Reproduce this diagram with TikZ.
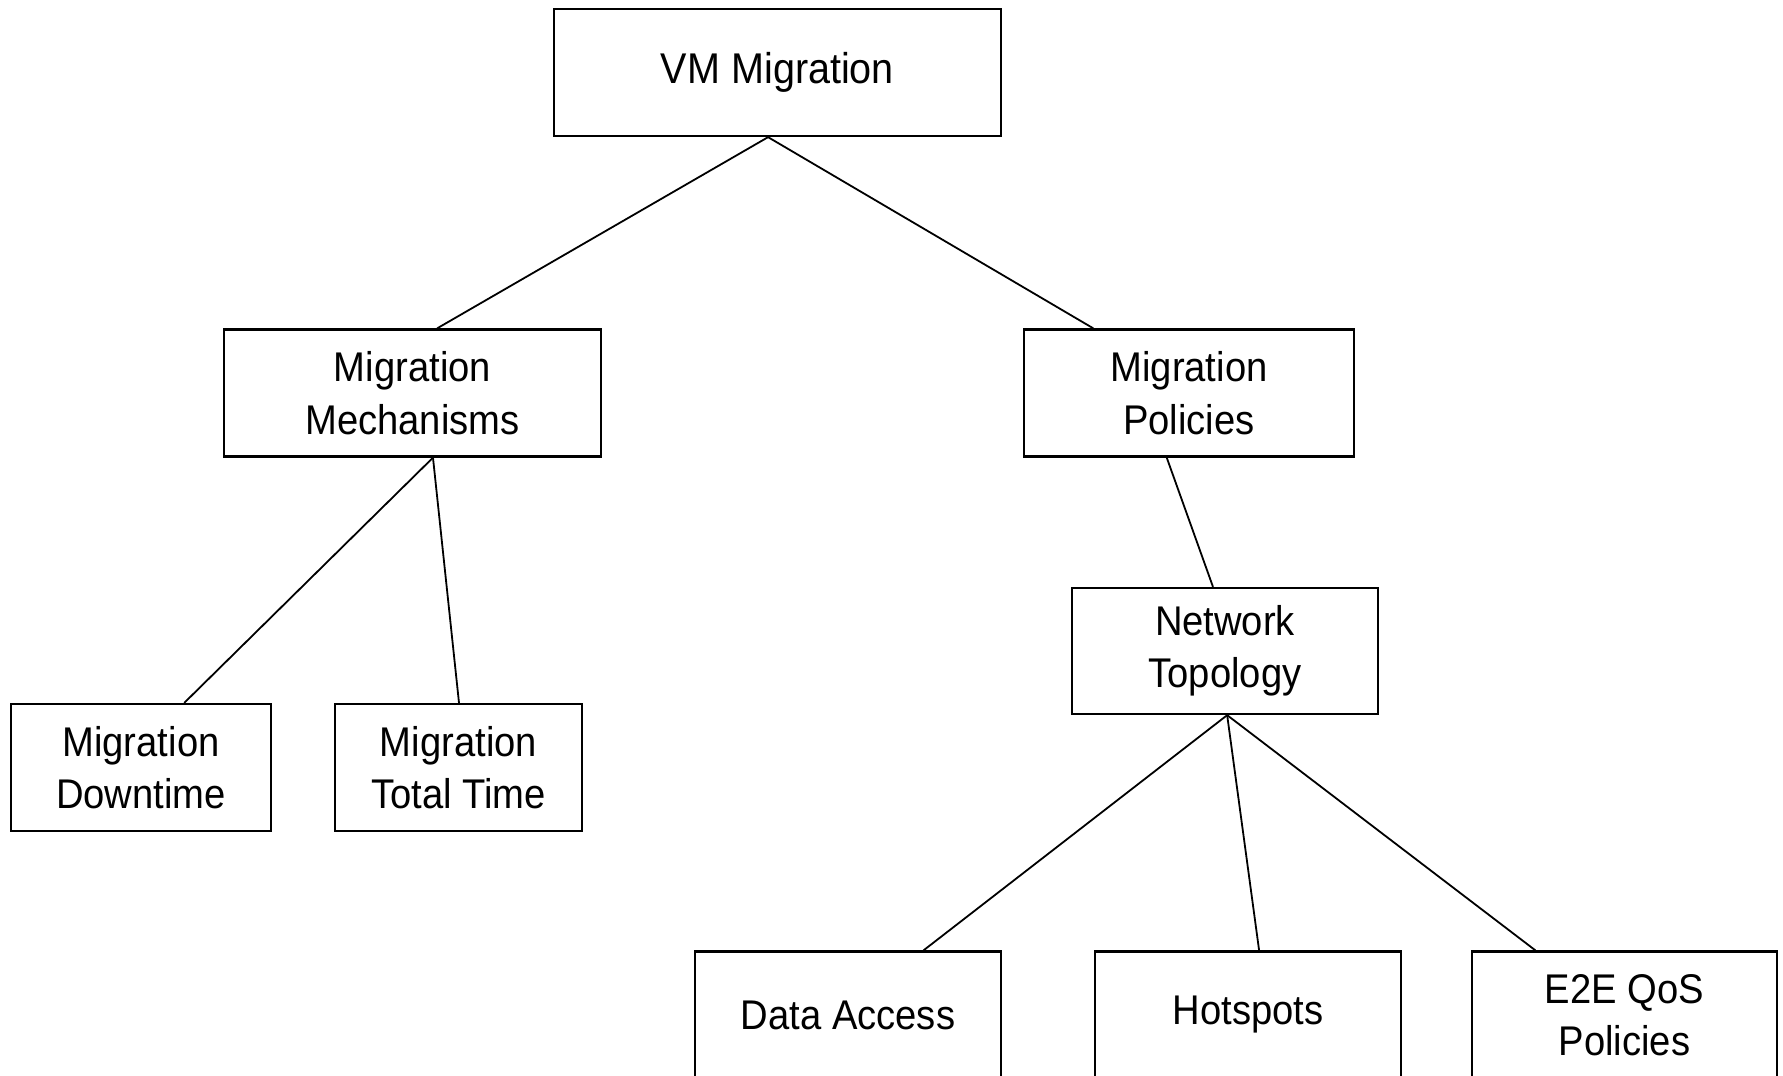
\documentclass[tikz,border=0pt]{standalone}
\usepackage{fontspec}
\setmainfont[FakeStretch=0.92]{Liberation Sans}
\usetikzlibrary{calc}
\tikzset{
  box/.style={draw=black, line width=2.3pt, fill=white, rectangle, inner sep=0pt,
    minimum height=127pt, align=center,
    font=\fontsize{41.5}{52.5}\selectfont},
  link/.style={draw=black, line width=1.8pt}
}
\begin{document}
\begin{tikzpicture}[x=1pt, y=-1pt]
  % page frame (also clips the bottom row, which runs off the page)
  \clip (0,0) rectangle (1783,1076);
  \fill[white] (0,0) rectangle (1783,1076);

  % tree nodes
  \node[box, minimum width=447pt, font=\fontsize{43}{53}\selectfont] (vm) at (777.5,72.5) {VM Migration};
  \node[box, minimum width=377pt] (mech) at (412.5,393) {Migration\\Mechanisms};
  \node[box, minimum width=330pt] (pol) at (1189,393) {Migration\\Policies};
  \node[box, minimum width=306pt, minimum height=126pt] (net) at (1225,651) {Network\\Topology};
  \node[box, minimum width=260pt] (down) at (141,767.5) {Migration\\Downtime};
  \node[box, minimum width=247pt] (total) at (458.5,767.5) {Migration\\Total Time};
  \node[box, minimum width=306pt] (data) at (848,1015) {Data Access};
  \node[box, minimum width=306pt] (hot) at (1248,1015) {Hotspots};
  \node[box, minimum width=305pt] (e2e) at (1624.5,1015) {E2E QoS\\Policies};

  % connectors
  \draw[link] ($(vm.south west)!0.479!(vm.south east)$) -- ($(mech.north west)!0.565!(mech.north east)$);
  \draw[link] ($(vm.south west)!0.479!(vm.south east)$) -- ($(pol.north west)!0.212!(pol.north east)$);
  \draw[link] ($(mech.south west)!0.554!(mech.south east)$) -- ($(down.north west)!0.665!(down.north east)$);
  \draw[link] ($(mech.south west)!0.554!(mech.south east)$) -- ($(total.north west)!0.502!(total.north east)$);
  \draw[link] ($(pol.south west)!0.433!(pol.south east)$) -- ($(net.north west)!0.461!(net.north east)$);
  \draw[link] ($(net.south west)!0.507!(net.south east)$) -- ($(data.north west)!0.745!(data.north east)$);
  \draw[link] ($(net.south west)!0.507!(net.south east)$) -- ($(hot.north west)!0.536!(hot.north east)$);
  \draw[link] ($(net.south west)!0.507!(net.south east)$) -- ($(e2e.north west)!0.21!(e2e.north east)$);
\end{tikzpicture}
\end{document}
